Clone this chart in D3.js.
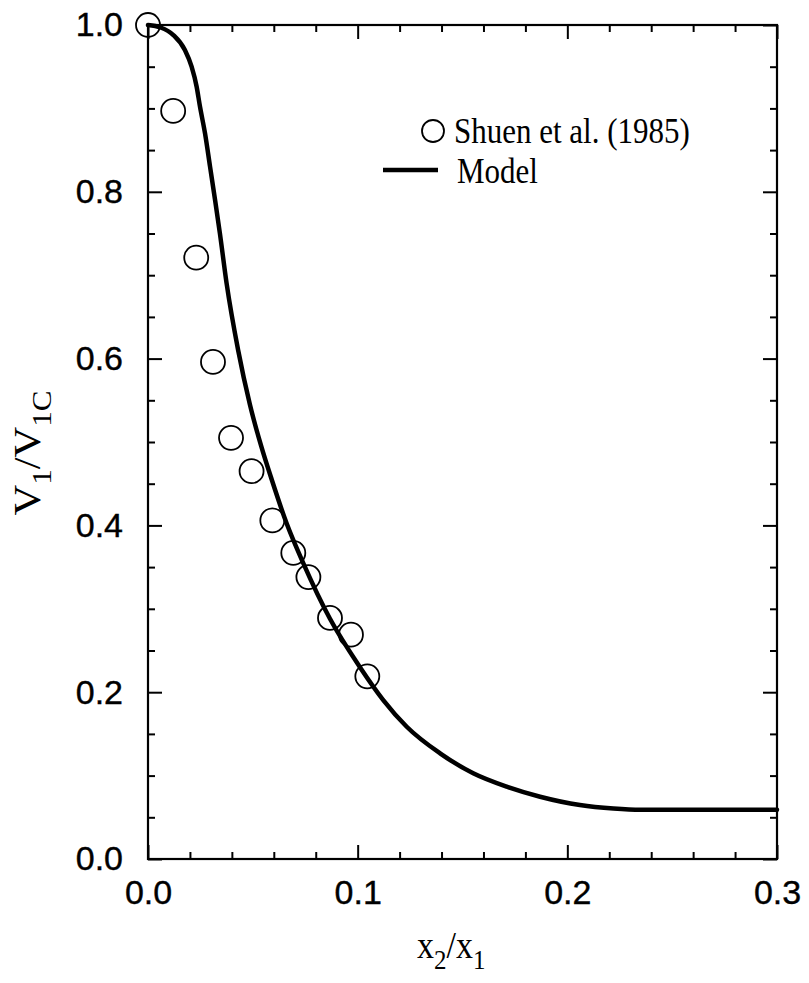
<!DOCTYPE html>
<html>
<head>
<meta charset="utf-8">
<script src="https://cdn.jsdelivr.net/npm/d3@7"></script>
<style>
  html, body { margin: 0; padding: 0; background: #fff; }
  svg { display: block; }
</style>
</head>
<body>
<div id="chart"></div>
<script>
// ---- data ----
const obsX = [0.0, 0.012, 0.023, 0.031, 0.0396, 0.0494, 0.0593, 0.0693, 0.0765, 0.0868, 0.0968, 0.1046];
const obsY = [1.0, 0.897, 0.721, 0.596, 0.505, 0.465, 0.406, 0.367, 0.338, 0.289, 0.269, 0.219];

const modelX = [0, 0.006, 0.0121, 0.0176, 0.0208, 0.0232, 0.0248, 0.0272, 0.0296, 0.032, 0.0343, 0.0375, 0.043, 0.0486, 0.054, 0.059,
                0.0661, 0.0741, 0.0868, 0.1011, 0.1122, 0.1234, 0.1393, 0.1551, 0.1711, 0.187, 0.206, 0.222, 0.235, 0.26, 0.3];
const modelY = [1.0, 0.997, 0.988, 0.970, 0.950, 0.926, 0.902, 0.870, 0.830, 0.790, 0.750, 0.690, 0.610, 0.545, 0.495, 0.455,
                0.4025, 0.3545, 0.288, 0.230, 0.1906, 0.1586, 0.1267, 0.1028, 0.0867, 0.0747, 0.0647, 0.0605, 0.059, 0.059, 0.059];

const xMajorTicks = [0.0, 0.1, 0.2, 0.3];
const yMajorTicks = [0.0, 0.2, 0.4, 0.6, 0.8, 1.0];
const xMinorStep = 0.02;
const yMinorStep = 0.05;

const legendLabels = ["Shuen et al. (1985)", "Model"];

// ---- layout ----
const W = 809, H = 983;
const mLeft = 148, mRight = 777, mTop = 25, mBottom = 859;

const svg = d3.select("#chart").append("svg").attr("width", W).attr("height", H);

const x = d3.scaleLinear().domain([0, 0.3]).range([mLeft, mRight]);
const y = d3.scaleLinear().domain([0, 1.0]).range([mBottom, mTop]);

const xMinor = d3.range(0, 0.3 + 1e-9, xMinorStep).filter(v => !xMajorTicks.some(m => Math.abs(m - v) < 1e-6));
const yMinor = d3.range(0, 1.0 + 1e-9, yMinorStep).filter(v => !yMajorTicks.some(m => Math.abs(m - v) < 1e-6));

const fmt = d3.format(".1f");
const MAJ = 14, MIN = 7;
const sans = "'Liberation Sans', Arial, Helvetica, sans-serif";
const serif = "'Liberation Serif', 'Times New Roman', Times, serif";

function styleAxis(g) {
  g.select(".domain").remove();
  g.selectAll(".tick line").attr("stroke", "#000").attr("stroke-width", 2);
}
function styleLabels(g) {
  g.selectAll("text").attr("font-family", sans).attr("font-size", 34)
    .attr("fill", "#000").attr("stroke", "#000").attr("stroke-width", 0.4);
}

// bottom
svg.append("g").attr("transform", `translate(0,${mBottom})`)
  .call(d3.axisBottom(x).tickValues(xMajorTicks).tickFormat(fmt).tickSize(-MAJ).tickPadding(21))
  .call(styleAxis).call(styleLabels);
svg.append("g").attr("transform", `translate(0,${mBottom})`)
  .call(d3.axisBottom(x).tickValues(xMinor).tickFormat("").tickSize(-MIN))
  .call(styleAxis);
// top
svg.append("g").attr("transform", `translate(0,${mTop})`)
  .call(d3.axisTop(x).tickValues(xMajorTicks).tickFormat("").tickSize(-MAJ))
  .call(styleAxis);
svg.append("g").attr("transform", `translate(0,${mTop})`)
  .call(d3.axisTop(x).tickValues(xMinor).tickFormat("").tickSize(-MIN))
  .call(styleAxis);
// left
svg.append("g").attr("transform", `translate(${mLeft},0)`)
  .call(d3.axisLeft(y).tickValues(yMajorTicks).tickFormat(fmt).tickSize(-MAJ).tickPadding(25))
  .call(styleAxis).call(styleLabels);
svg.append("g").attr("transform", `translate(${mLeft},0)`)
  .call(d3.axisLeft(y).tickValues(yMinor).tickFormat("").tickSize(-MIN))
  .call(styleAxis);
// right
svg.append("g").attr("transform", `translate(${mRight},0)`)
  .call(d3.axisRight(y).tickValues(yMajorTicks).tickFormat("").tickSize(-MAJ))
  .call(styleAxis);
svg.append("g").attr("transform", `translate(${mRight},0)`)
  .call(d3.axisRight(y).tickValues(yMinor).tickFormat("").tickSize(-MIN))
  .call(styleAxis);

// frame
svg.append("rect").attr("x", mLeft).attr("y", mTop).attr("width", mRight - mLeft).attr("height", mBottom - mTop)
  .attr("fill", "none").attr("stroke", "#000").attr("stroke-width", 2.2);

// model curve
const modelData = modelX.map((v, i) => [v, modelY[i]]);
svg.append("path").datum(modelData)
  .attr("fill", "none").attr("stroke", "#000").attr("stroke-width", 4.5)
  .attr("stroke-linejoin", "round").attr("stroke-linecap", "round")
  .attr("d", d3.line().x(d => x(d[0])).y(d => y(d[1])).curve(d3.curveMonotoneX));

// observations
const obsData = obsX.map((v, i) => [v, obsY[i]]);
svg.append("g").selectAll("circle").data(obsData).join("circle")
  .attr("cx", d => x(d[0])).attr("cy", d => y(d[1])).attr("r", 12)
  .attr("fill", "none").attr("stroke", "#000").attr("stroke-width", 1.8);

// legend
svg.append("circle").attr("cx", 433).attr("cy", 131).attr("r", 11)
  .attr("fill", "none").attr("stroke", "#000").attr("stroke-width", 1.8);
svg.append("text").attr("transform", "translate(454,143) scale(1,1.18)")
  .attr("font-family", serif).attr("font-size", 31).attr("fill", "#000").text(legendLabels[0]);
svg.append("line").attr("x1", 383).attr("x2", 438).attr("y1", 170).attr("y2", 170)
  .attr("stroke", "#000").attr("stroke-width", 4.5);
svg.append("text").attr("transform", "translate(457,183) scale(1,1.18)")
  .attr("font-family", serif).attr("font-size", 31).attr("fill", "#000").text(legendLabels[1]);

// x axis title: x2/x1
const xt = svg.append("text").attr("transform", "translate(417,958) scale(1,1.12)")
  .attr("font-family", serif).attr("font-size", 34).attr("fill", "#000");
xt.append("tspan").text("x");
xt.append("tspan").attr("font-size", 25).attr("dy", 10).text("2");
xt.append("tspan").attr("dy", -10).text("/x");
xt.append("tspan").attr("font-size", 25).attr("dy", 10).text("1");

// y axis title: V1/V1C
const yt = svg.append("text").attr("transform", "translate(40,453) rotate(-90) scale(1.15,1)")
  .attr("text-anchor", "middle")
  .attr("font-family", serif).attr("font-size", 37).attr("fill", "#000");
yt.append("tspan").text("V");
yt.append("tspan").attr("font-size", 27).attr("dy", 11).text("1");
yt.append("tspan").attr("dy", -11).text("/V");
yt.append("tspan").attr("font-size", 27).attr("dy", 11).text("1C");
</script>
</body>
</html>
